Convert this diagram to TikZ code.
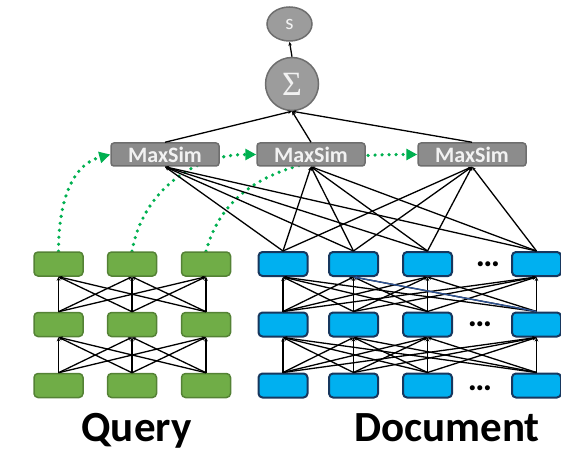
\documentclass[tikz,border=0pt]{standalone}
\usepackage{fontspec}
\setmainfont{Carlito}
\newfontfamily\sigmafont{Liberation Serif}
\usetikzlibrary{arrows.meta,shapes.geometric,backgrounds}

\definecolor{qgreen}{HTML}{70AD47}
\definecolor{qgreenD}{HTML}{548235}
\definecolor{dblue}{HTML}{00B0F0}
\definecolor{dblueD}{HTML}{17375E}
\definecolor{gfill}{HTML}{8C8C8C}
\definecolor{gborder}{HTML}{6E6E6E}
\definecolor{gtext}{HTML}{F2F2F2}
\definecolor{ggray}{HTML}{9C9C9C}
\definecolor{sgreen}{HTML}{00B050}
\definecolor{strayblue}{HTML}{2F5597}

\begin{document}
\begin{tikzpicture}[x=1pt,y=1pt,
  qtok/.style={draw=qgreenD, fill=qgreen, line width=1.5pt, rounded corners=4pt,
    minimum width=49pt, minimum height=24pt, inner sep=0pt},
  dtok/.style={draw=dblueD, fill=dblue, line width=2pt, rounded corners=4pt,
    minimum width=49pt, minimum height=24pt, inner sep=0pt},
  maxsim/.style={draw=gborder, fill=gfill, line width=1.5pt, rounded corners=3pt,
    minimum width=108pt, minimum height=23pt, inner sep=0pt, text=gtext,
    font=\fontsize{22}{22}\selectfont\bfseries},
  sumnode/.style={circle, draw=gborder, fill=ggray, line width=1.5pt,
    minimum size=53pt, inner sep=0pt, text=gtext,
    font=\fontsize{34}{34}\selectfont\sigmafont},
  scorenode/.style={ellipse, draw=gborder, fill=ggray, line width=1.5pt,
    minimum width=45pt, minimum height=34pt, inner sep=0pt, text=gtext,
    font=\fontsize{21}{21}\selectfont},
  link/.style={line width=1.3pt, -{Stealth[length=4pt,width=3.5pt]}},
  qmatch/.style={draw=sgreen, line width=3.6pt, line cap=round,
    dash pattern=on 0pt off 7pt, -{Triangle[length=11pt,width=11pt]}},
  tagtext/.style={font=\fontsize{43}{43}\selectfont\bfseries, anchor=base},
  ellip/.style={inner sep=0pt, font=\fontsize{34}{34}\selectfont\bfseries}]
\useasboundingbox (0,0) rectangle (561,453);

% query side
\foreach \c/\x in {1/58.5,2/132,3/206}
  \foreach \r/\y in {1/189,2/128.5,3/67.5}
    \node[qtok] (q\r\c) at (\x,\y) {};

% document side
\foreach \c/\x in {1/283,2/353.5,3/427.5,4/536.5}
  \foreach \r/\y in {1/189,2/128.5,3/67.5}
    \node[dtok] (d\r\c) at (\x,\y) {};
\node[ellip] (dots1) at (488,189) {…};
\node[ellip] (dots2) at (480,129) {…};
\node[ellip] (dots3) at (480,65) {…};

% scoring
\node[maxsim] (m1) at (165,298.5) {MaxSim};
\node[maxsim] (m2) at (311,298.5) {MaxSim};
\node[maxsim] (m3) at (472,298.5) {MaxSim};
\node[sumnode] (sum) at (292,369) {Σ};
\node[scorenode] (score) at (289.5,429) {s};

% layers
\foreach \r/\s in {1/2,2/3}
  \foreach \i in {1,2,3}
    \foreach \j in {1,2,3}
      \draw[link] (q\s\j.north) -- (q\r\i.south);
\foreach \r/\s in {1/2,2/3}
  \foreach \i in {1,...,4}
    \foreach \j in {1,...,4}
      \draw[link] (d\s\j.north) -- (d\r\i.south);
\draw[link, strayblue] (d24.north) -- (d12.south);

\foreach \m in {1,2,3}{
  \foreach \c in {1,...,4}
    \draw[link] (d1\c.north) -- (m\m.south);
  \draw[link] (m\m.north) -- (sum.south);
}
\draw[link] (sum.north) -- (score.south);

% query token -> its MaxSim
\begin{pgfonlayer}{background}
  \draw[qmatch] (q11.north) to[out=90,in=195] (m1.west);
  \draw[qmatch] (q12.north) to[out=80,in=180] (m2.west);
  \draw[qmatch] (q13.north) to[out=75,in=180] (m3.west);
\end{pgfonlayer}

\node[tagtext] (qlabel) at (136.5,12) {Query};
\node[tagtext] (dlabel) at (447,12) {Document};
\end{tikzpicture}
\end{document}
